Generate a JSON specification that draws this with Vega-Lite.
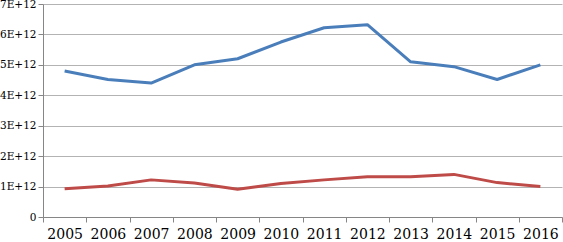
{
  "$schema": "https://vega.github.io/schema/vega-lite/v6.json",
  "width": 519,
  "height": 213,
  "autosize": {"type": "none"},
  "padding": {"left": 43, "top": 4, "right": 1, "bottom": 25},
  "background": "white",
  "config": {"view": {"stroke": null}, "font": "DejaVu Serif", "axis": {"labelFont": "DejaVu Serif"}},
  "data": {
    "values": [
      {"year": "2005", "series": "A", "value": 4.8e12},
      {"year": "2006", "series": "A", "value": 4.52e12},
      {"year": "2007", "series": "A", "value": 4.4e12},
      {"year": "2008", "series": "A", "value": 5.0e12},
      {"year": "2009", "series": "A", "value": 5.2e12},
      {"year": "2010", "series": "A", "value": 5.75e12},
      {"year": "2011", "series": "A", "value": 6.22e12},
      {"year": "2012", "series": "A", "value": 6.32e12},
      {"year": "2013", "series": "A", "value": 5.1e12},
      {"year": "2014", "series": "A", "value": 4.94e12},
      {"year": "2015", "series": "A", "value": 4.52e12},
      {"year": "2016", "series": "A", "value": 5.0e12},
      {"year": "2005", "series": "B", "value": 0.93e12},
      {"year": "2006", "series": "B", "value": 1.02e12},
      {"year": "2007", "series": "B", "value": 1.22e12},
      {"year": "2008", "series": "B", "value": 1.12e12},
      {"year": "2009", "series": "B", "value": 0.91e12},
      {"year": "2010", "series": "B", "value": 1.1e12},
      {"year": "2011", "series": "B", "value": 1.22e12},
      {"year": "2012", "series": "B", "value": 1.32e12},
      {"year": "2013", "series": "B", "value": 1.32e12},
      {"year": "2014", "series": "B", "value": 1.4e12},
      {"year": "2015", "series": "B", "value": 1.13e12},
      {"year": "2016", "series": "B", "value": 1.0e12}
    ]
  },
  "mark": {"type": "line", "strokeWidth": 3, "strokeJoin": "round"},
  "encoding": {
    "x": {
      "field": "year",
      "type": "ordinal",
      "scale": {"type": "band", "paddingInner": 0, "paddingOuter": 0},
      "bandPosition": 0.5,
      "axis": {
        "title": null,
        "labelAngle": 0,
        "tickBand": "extent",
        "domainColor": "#868686",
        "tickColor": "#868686",
        "tickSize": 5,
        "labelFontSize": 14,
        "labelColor": "#000000",
        "labelPadding": 5,
        "grid": false
      }
    },
    "y": {
      "field": "value",
      "type": "quantitative",
      "scale": {"domain": [0, 7e12], "nice": false},
      "axis": {
        "title": null,
        "values": [0, 1e12, 2e12, 3e12, 4e12, 5e12, 6e12, 7e12],
        "labelExpr": "datum.value == 0 ? '0' : (datum.value / 1e12) + 'E+12'",
        "grid": true,
        "gridColor": "#b3b3b3",
        "gridWidth": 1,
        "domainColor": "#868686",
        "tickColor": "#868686",
        "tickSize": 5,
        "labelFontSize": 10.5,
        "labelColor": "#000000",
        "labelPadding": 2
      }
    },
    "color": {
      "field": "series",
      "type": "nominal",
      "scale": {"domain": ["A", "B"], "range": ["#4a7ebb", "#be4b48"]},
      "legend": null
    }
  }
}
